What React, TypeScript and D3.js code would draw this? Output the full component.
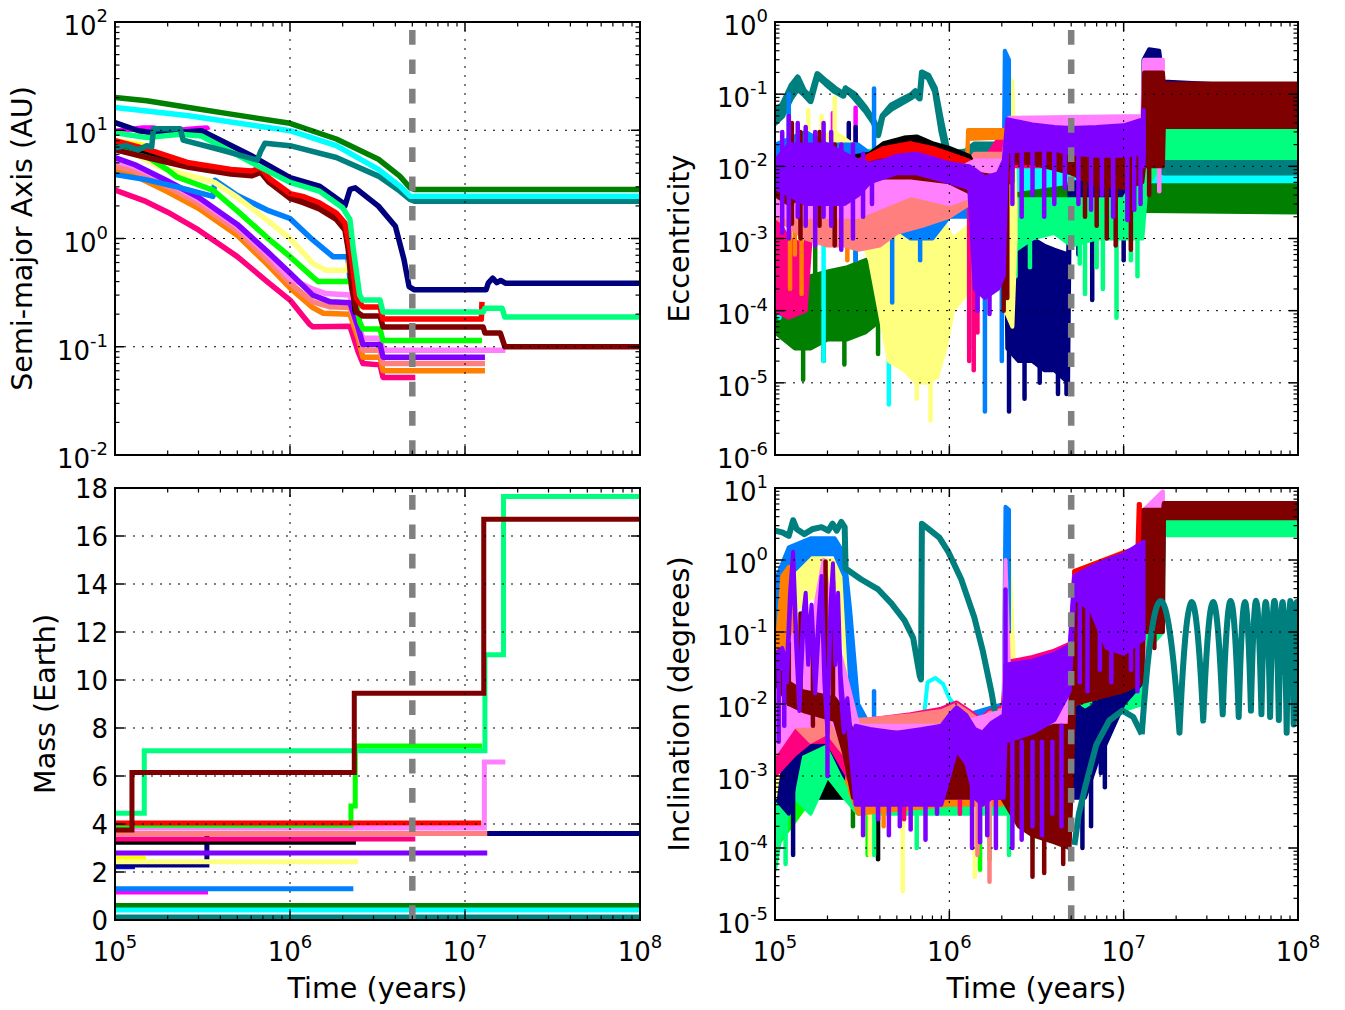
import React from 'react';
import * as d3 from 'd3';

type P2 = [number, number];
type P3 = [number, number, number];

// ---------------- colours ----------------
const C = {
  green: '#007f00', cyan: '#00ffff', teal: '#007f7f', navy: '#00007f',
  spring: '#00ff7f', red: '#ff0000', black: '#000000', maroon: '#7f0000',
  lime: '#00ff00', lyellow: '#ffff7f', yellow: '#ffff00', dodger: '#007fff',
  violet: '#ff7fff', purple: '#7f00ff', salmon: '#ff7f7f', orange: '#ff7f00',
  dpink: '#ff007f', magenta: '#ff00ff', blue: '#0000ff', gray: '#808080',
};

// ---------------- ticks / labels ----------------
const TIME_MAJOR = [1e5, 1e6, 1e7, 1e8];
const TIME_EXP = ['5', '6', '7', '8'];
const A_MAJOR = [1e-2, 1e-1, 1, 10, 100];
const A_EXP = ['-2', '-1', '0', '1', '2'];
const E_MAJOR = [1e-6, 1e-5, 1e-4, 1e-3, 1e-2, 1e-1, 1];
const E_EXP = ['-6', '-5', '-4', '-3', '-2', '-1', '0'];
const I_MAJOR = [1e-5, 1e-4, 1e-3, 1e-2, 1e-1, 1, 10];
const I_EXP = ['-5', '-4', '-3', '-2', '-1', '0', '1'];
const M_TICKS = [0, 2, 4, 6, 8, 10, 12, 14, 16, 18];
const MIGRATION_END = 5e6;

// ---------------- semi-major axis (AU) ----------------
const aGreen: P2[] = [[1e5, 20.1], [1.52e5, 18.7], [2.64e5, 16.2], [4.6e5, 14.1], [1e6, 11.6], [1.84e6, 8.3], [3.2e6, 5.4], [4.24e6, 3.77], [4.86e6, 2.94], [5.14e6, 2.84], [1e8, 2.84]];
const aCyan: P2[] = [[1e5, 16.2], [2.64e5, 13.6], [1e6, 9.9], [1.84e6, 7.2], [3.2e6, 4.35], [4.24e6, 3.05], [4.86e6, 2.46], [5.14e6, 2.45], [1e8, 2.45]];
const aTeal: P2[] = [[1e5, 6.9], [1.15e5, 7.2], [1.36e5, 6.6], [1.52e5, 7.2], [1.62e5, 7.0], [1.66e5, 10.3], [2.36e5, 10.3], [2.45e5, 8.1], [4e5, 6.6], [6.5e5, 5.3], [6.8e5, 6.4], [7.2e5, 7.6], [1e6, 7.2], [1.84e6, 5.6], [3.2e6, 3.77], [4.24e6, 2.74], [4.86e6, 2.29], [5.14e6, 2.21], [1e8, 2.21]];
const aNavy: P2[] = [[1e5, 11.8], [1.36e5, 9.9], [1.8e5, 9.3], [3.12e5, 9.9], [6.07e5, 5.78], [1e6, 3.65], [1.47e6, 3.05], [2.0e6, 2.14], [2.06e6, 2.0], [2.2e6, 2.84], [2.36e6, 2.94], [3.2e6, 1.99], [4.0e6, 1.3], [4.48e6, 0.64], [4.79e6, 0.36], [5.14e6, 0.336], [1.32e7, 0.336], [1.36e7, 0.39], [1.44e7, 0.43], [1.52e7, 0.39], [1.6e7, 0.41], [1.7e7, 0.387], [1e8, 0.387]];
const aSpring: P2[] = [[1e5, 9.5], [1.52e5, 8.55], [2.36e5, 9.2], [3.12e5, 8.85], [6.07e5, 5.0], [1e6, 3.3], [1.47e6, 2.74], [2.0e6, 1.92], [2.2e6, 1.5], [2.3e6, 0.8], [2.5e6, 0.3], [2.6e6, 0.27], [3.27e6, 0.27], [3.4e6, 0.209], [1.27e7, 0.209], [1.3e7, 0.227], [1.63e7, 0.227], [1.69e7, 0.188], [1e8, 0.188]];
const aRed: P2[] = [[1e5, 8.0], [1.52e5, 6.7], [2.64e5, 5.0], [4.6e5, 4.35], [6.07e5, 4.2], [6.8e5, 4.5], [7.6e5, 3.6], [1e6, 2.6], [1.18e6, 2.45], [1.47e6, 2.14], [1.84e6, 1.72], [2.06e6, 1.39], [2.23e6, 0.73], [2.4e6, 0.28], [2.61e6, 0.233], [3.27e6, 0.233], [3.4e6, 0.18], [1.24e7, 0.18], [1.25e7, 0.26]];
const aBlack: P2[] = [[1e5, 7.6], [1.52e5, 6.3], [2.64e5, 4.8], [4.6e5, 4.15], [6.07e5, 4.0], [6.8e5, 4.3], [7.6e5, 3.45], [1e6, 2.5], [1.18e6, 2.3], [1.47e6, 2.0], [1.84e6, 1.62], [2.06e6, 1.3], [2.23e6, 0.65], [2.35e6, 0.22], [2.38e6, 0.2]];
const aMaroon: P2[] = [[1e5, 6.6], [1.52e5, 5.6], [2.64e5, 4.55], [4.6e5, 3.95], [6.07e5, 3.8], [6.8e5, 4.1], [7.6e5, 3.3], [1e6, 2.35], [1.18e6, 2.15], [1.47e6, 1.88], [1.84e6, 1.5], [2.06e6, 1.2], [2.15e6, 0.8], [2.25e6, 0.35], [2.4e6, 0.21], [2.61e6, 0.192], [3.27e6, 0.192], [3.4e6, 0.152], [1.27e7, 0.152], [1.3e7, 0.134], [1.59e7, 0.134], [1.69e7, 0.1], [1e8, 0.1]];
const aLime: P2[] = [[1e5, 6.8], [1.5e5, 5.8], [2e5, 4.3], [2.26e5, 3.7], [3.63e5, 2.8], [5e5, 1.8], [7.4e5, 1.02], [1e6, 0.68], [1.35e6, 0.44], [1.45e6, 0.4], [2.2e6, 0.4], [2.3e6, 0.35], [2.5e6, 0.17], [2.61e6, 0.146], [3.27e6, 0.146], [3.4e6, 0.114], [1.25e7, 0.114]];
const aYellow: P2[] = [[1e5, 7.0], [1.3e5, 6.0], [1.8e5, 4.6], [2.26e5, 4.1], [3.7e5, 3.3], [5e5, 2.4], [7.4e5, 1.48], [1e6, 1.0], [1.35e6, 0.59], [1.6e6, 0.51], [2.1e6, 0.51], [2.17e6, 0.62], [2.25e6, 0.45], [2.4e6, 0.42]];
const aDodger: P2[] = [[1e5, 3.9], [1.5e5, 3.5], [2.26e5, 3.0], [3.63e5, 2.45], [3.73e5, 3.45], [5e5, 2.5], [7.4e5, 1.83], [1e6, 1.53], [1.35e6, 0.97], [1.76e6, 0.68], [2.14e6, 0.68], [2.2e6, 0.42]];
const aViolet: P2[] = [[1e5, 5.2], [1.3e5, 4.6], [2e5, 3.3], [3e5, 2.3], [5e5, 1.3], [7.4e5, 0.72], [1e6, 0.43], [1.35e6, 0.34], [1.6e6, 0.31], [2.2e6, 0.3], [2.45e6, 0.16], [2.61e6, 0.12], [3.27e6, 0.12], [3.4e6, 0.093], [1.7e7, 0.093]];
const aPurple: P2[] = [[1e5, 5.6], [1.3e5, 4.8], [2e5, 3.4], [3e5, 2.4], [5e5, 1.35], [7.4e5, 0.76], [1e6, 0.48], [1.35e6, 0.3], [1.7e6, 0.26], [2.2e6, 0.255], [2.45e6, 0.15], [2.61e6, 0.105], [3.27e6, 0.105], [3.4e6, 0.08], [1.3e7, 0.08]];
const aSalmon: P2[] = [[1e5, 4.7], [1.3e5, 4.2], [2e5, 3.0], [3e5, 2.1], [5e5, 1.18], [7.4e5, 0.64], [1e6, 0.39], [1.35e6, 0.26], [1.7e6, 0.234], [2.2e6, 0.23], [2.45e6, 0.14], [2.61e6, 0.093], [3.27e6, 0.093], [3.4e6, 0.07], [1.3e7, 0.07]];
const aOrange: P2[] = [[1e5, 4.2], [1.3e5, 3.8], [2e5, 2.7], [3e5, 1.9], [5e5, 1.07], [7.4e5, 0.58], [1e6, 0.35], [1.35e6, 0.23], [1.55e6, 0.204], [2.2e6, 0.2], [2.45e6, 0.12], [2.61e6, 0.08], [3.27e6, 0.08], [3.4e6, 0.06], [1.3e7, 0.06]];
const aDpink: P2[] = [[1e5, 2.8], [1.5e5, 2.2], [2e5, 1.75], [3e5, 1.2], [5e5, 0.68], [7.4e5, 0.4], [1e6, 0.27], [1.3e6, 0.16], [1.35e6, 0.153], [2.2e6, 0.155], [2.45e6, 0.09], [2.61e6, 0.07], [3.27e6, 0.068], [3.4e6, 0.052], [5.2e6, 0.052]];
const aMagenta: P2[] = [[1e5, 9.8], [1.45e5, 10.5], [1.65e5, 10.5], [2e5, 9.8], [2.9e5, 10.3], [3.35e5, 10.5], [3.4e5, 10.0]];
const aYellowB: P2[] = [[1e5, 8.0], [1.5e5, 7.2]];
const aBlue: P2[] = [[1e5, 5.0], [1.3e5, 4.6]];

// ---------------- mass (Earth) : step changes ----------------
const mGreen: P2[] = [[1e5, 0.6], [1e8, 0.6]];
const mCyan: P2[] = [[1e5, 0.42], [1e8, 0.42]];
const mTeal: P2[] = [[1e5, 0.13], [1e8, 0.13]];
const mDodger: P2[] = [[1e5, 1.3], [2.3e6, 1.3]];
const mMagenta: P2[] = [[1e5, 1.17], [3.4e5, 1.17]];
const mBlue: P2[] = [[1e5, 2.22], [1.3e5, 2.22]];
const mNavy: P2[] = [[1e5, 2.29], [3.35e5, 3.6], [1e8, 3.6]];
const mYellowB: P2[] = [[1e5, 2.58], [1.5e5, 2.58]];
const mYellow: P2[] = [[1e5, 2.43], [2.45e6, 2.43]];
const mPurple: P2[] = [[1e5, 2.79], [1.34e7, 2.79]];
const mBlack: P2[] = [[1e5, 3.24], [2.38e6, 3.24]];
const mDpink: P2[] = [[1e5, 3.38], [5.2e6, 3.38]];
const mSalmon: P2[] = [[1e5, 3.6], [1.34e7, 3.6]];
const mViolet: P2[] = [[1e5, 3.83], [1.29e7, 6.58], [1.7e7, 6.58]];
const mRed: P2[] = [[1e5, 4.04], [1.24e7, 4.04]];
const mLime: P2[] = [[1e5, 3.95], [2.23e6, 4.75], [2.36e6, 7.25], [1.25e7, 7.25]];
const mSpring: P2[] = [[1e5, 4.45], [1.47e5, 7.05], [1.3e7, 11.05], [1.66e7, 17.65], [1e8, 17.65]];
const mMaroon: P2[] = [[1e5, 3.75], [1.25e5, 6.15], [2.33e6, 9.45], [1.28e7, 16.7], [1e8, 16.7]];

// ---------------- eccentricity envelopes [t, low, high] + spikes [t, low, high] ----------------
const eGreen: P3[] = [[1e5, 5e-5, 3e-4], [1.3e5, 3e-5, 2.5e-4], [1.6e5, 3e-5, 3e-4], [2e5, 4e-5, 3.5e-4], [2.6e5, 4e-5, 4e-4], [3.3e5, 5e-5, 5e-4], [4.2e5, 8e-5, 6e-4], [4.6e5, 5e-4, 5e-3], [1e6, 2e-3, 6e-3], [2.2e6, 3.3e-3, 6e-3], [5e6, 3.4e-3, 6e-3], [1.3e7, 3.4e-3, 6e-3], [1.35e7, 2.4e-3, 6.2e-3], [1e8, 2.3e-3, 6.2e-3]];
const eGreenSp: P3[] = [[1.45e5, 1.1e-5, 5e-5], [1.9e5, 2e-5, 6e-5], [2.5e5, 1.8e-5, 6e-5], [3.9e5, 2.5e-5, 1e-4], [8.5e5, 3e-4, 3e-3], [2.9e5, 3e-4, 2.5e-3], [1.7e5, 2e-4, 1.2e-3]];
const eCyan: P3[] = [[1e5, 2e-3, 6e-3], [5e5, 2e-3, 6e-3], [1e6, 2e-3, 8e-3], [2.2e6, 4.5e-3, 9e-3], [5e6, 6e-3, 0.011], [1.3e7, 6e-3, 0.01], [1.35e7, 6.2e-3, 8.2e-3], [1e8, 6.2e-3, 8.2e-3]];
const eCyanSp: P3[] = [[4.5e5, 5e-6, 2e-3], [1.9e5, 2e-5, 2e-3], [1.06e5, 8e-5, 2e-3]];
const eTeal: P3[] = [[1e5, 0.04, 0.06], [1.1e5, 0.05, 0.07], [1.24e5, 0.09, 0.13], [1.35e5, 0.12, 0.17], [1.47e5, 0.1, 0.11], [1.6e5, 0.08, 0.09], [1.75e5, 0.18, 0.19], [1.96e5, 0.14, 0.15], [2.2e5, 0.11, 0.12], [2.47e5, 0.095, 0.1], [2.54e5, 0.12, 0.12], [2.85e5, 0.09, 0.1], [3.29e5, 0.06, 0.065], [3.69e5, 0.04, 0.042], [3.91e5, 0.027, 0.03], [4.14e5, 0.05, 0.05], [4.65e5, 0.063, 0.07], [5.53e5, 0.08, 0.087], [6.03e5, 0.09, 0.097], [6.38e5, 0.1, 0.11], [6.76e5, 0.087, 0.09], [6.96e5, 0.19, 0.2], [7.59e5, 0.17, 0.18], [8.27e5, 0.11, 0.12], [9.02e5, 0.03, 0.04], [9.83e5, 0.012, 0.015], [1.24e6, 0.013, 0.016], [1.39e6, 0.016, 0.02], [2.08e6, 0.016, 0.02], [2.2e6, 0.011, 0.014], [5e6, 0.011, 0.015], [1.3e7, 0.011, 0.014], [1.7e7, 0.0082, 0.013], [1e8, 0.0082, 0.013]];
const eTealSp: P3[] = [[9.3e5, 5e-5, 0.01]];
const eNavy: P3[] = [[1e5, 5e-3, 0.012], [2e5, 5e-3, 0.015], [3.4e5, 8e-3, 0.015], [5e5, 6e-3, 0.012], [1e6, 4e-3, 0.01], [2.1e6, 3e-3, 8e-3], [2.15e6, 3e-5, 8e-4], [2.5e6, 2e-5, 1e-3], [3e6, 2e-5, 1e-3], [3.5e6, 1.5e-5, 8e-4], [4e6, 1.5e-5, 7e-4], [4.8e6, 1e-5, 6e-4], [4.9e6, 1.5e-3, 6e-3], [1e7, 2e-3, 6e-3], [1.28e7, 2e-3, 6e-3], [1.3e7, 0.05, 0.3], [1.4e7, 0.1, 0.42], [1.6e7, 0.1, 0.4], [1.68e7, 0.05, 0.15], [1e8, 0.04, 0.12]];
const eNavySp: P3[] = [[2.65e5, 0.01, 0.04], [2.9e5, 0.01, 0.035], [2.2e6, 4e-6, 1e-4], [2.7e6, 6e-6, 1e-4], [3.3e6, 1e-5, 1e-4], [4.2e6, 7e-6, 1e-4], [4.7e6, 7e-6, 1e-4], [5.5e6, 6e-4, 2e-3], [6.6e6, 1.4e-4, 2e-3], [1e7, 5e-4, 2e-3]];
const eSpring: P3[] = [[1e5, 3e-3, 0.012], [5e5, 8e-3, 0.018], [2e6, 6e-3, 0.012], [2.2e6, 6e-4, 3.5e-3], [3e6, 1e-3, 3.5e-3], [4e6, 1.2e-3, 3.5e-3], [5e6, 8e-4, 3.5e-3], [7e6, 1e-3, 3.5e-3], [1e7, 1e-3, 3.5e-3], [1.28e7, 1e-3, 0.01], [1.35e7, 5e-3, 0.04], [1.7e7, 0.013, 0.045], [1e8, 0.013, 0.045]];
const eSpringSp: P3[] = [[2.4e6, 3e-4, 2e-3], [2.9e6, 4e-4, 2e-3], [5.6e6, 4.5e-4, 1e-3], [6e6, 1.7e-4, 1e-3], [7e6, 4e-4, 1e-3], [7.6e6, 2e-4, 1e-3], [9.1e6, 8e-5, 1e-3], [1.1e7, 5e-4, 1e-3], [1.2e7, 3e-4, 1e-3]];
const eYellow: P3[] = [[1e5, 2e-3, 0.01], [1.3e5, 3e-3, 0.02], [1.7e5, 4e-3, 0.025], [2.2e5, 4e-3, 0.03], [2.8e5, 2e-3, 0.02], [3.5e5, 5e-4, 6e-3], [4.5e5, 2e-5, 2.5e-3], [5.5e5, 1.5e-5, 3e-3], [6.5e5, 1e-5, 3e-3], [7.5e5, 1e-5, 2.5e-3], [8.5e5, 1.2e-5, 2e-3], [9.5e5, 3e-5, 1.5e-3], [1.05e6, 1e-4, 1e-3], [1.5e6, 3e-4, 2e-3], [2.05e6, 1e-3, 5e-3], [2.1e6, 1e-4, 0.2], [2.3e6, 6e-5, 0.15], [2.4e6, 1e-3, 3e-3]];
const eYellowSp: P3[] = [[7.8e5, 3e-6, 1e-4], [6.5e5, 6e-6, 1e-4], [2.2e5, 5e-3, 0.09], [1.55e5, 5e-3, 0.06], [1.85e5, 5e-3, 0.05]];
const eDodger: P3[] = [[1e5, 4e-3, 0.02], [1.5e5, 3e-3, 0.03], [2e5, 3e-3, 0.02], [3e5, 4e-3, 0.02], [4e5, 2e-3, 0.012], [6e5, 1e-3, 8e-3], [8e5, 1e-3, 6e-3], [1e6, 2e-3, 5e-3], [1.5e6, 2e-3, 6e-3], [2.05e6, 3e-3, 8e-3], [2.08e6, 0.05, 0.4], [2.2e6, 0.05, 0.3]];
const eDodgerSp: P3[] = [[1.2e5, 5e-3, 0.1], [3.7e5, 2e-3, 0.12], [2.9e5, 5e-4, 0.02], [4.7e5, 1.3e-4, 5e-3], [6.8e5, 5e-4, 5e-3], [1.6e6, 4e-6, 2e-3], [1.3e6, 3e-5, 2e-3], [2.0e6, 2e-5, 2e-3]];
const eMagenta: P3[] = [[1e5, 8e-3, 0.012], [3.4e5, 8e-3, 0.012]];
const eMagentaSp: P3[] = [[2.9e5, 0.02, 0.065], [2.15e5, 0.02, 0.055]];
const eDpink: P3[] = [[1e5, 1e-4, 2e-3], [1.2e5, 8e-5, 1e-3], [1.5e5, 1e-4, 8e-4], [1.6e5, 1e-3, 0.01], [3e5, 2e-3, 0.01], [6e5, 3e-3, 0.01], [1e6, 3e-3, 8e-3], [1.5e6, 3e-3, 0.01], [2.2e6, 0.01, 0.04], [5.2e6, 0.01, 0.04]];
const eDpinkSp: P3[] = [[1.3e6, 2e-5, 3e-3], [1.38e6, 1.5e-5, 3e-3], [1.45e6, 5e-5, 3e-3]];
const eOrange: P3[] = [[1e5, 3e-3, 8e-3], [3e5, 3e-3, 0.01], [5e5, 3e-3, 8e-3], [1e6, 3e-3, 6e-3], [1.25e6, 3e-3, 6e-3], [1.28e6, 0.024, 0.032], [2.1e6, 0.025, 0.032], [2.2e6, 0.02, 0.043], [1.3e7, 0.02, 0.043]];
const eOrangeSp: P3[] = [[1.22e5, 2e-4, 5e-3], [1.3e5, 6e-4, 5e-3], [1.42e5, 1.7e-4, 5e-3], [2.6e5, 5e-4, 5e-3]];
const eSalmon: P3[] = [[1e5, 2e-3, 6e-3], [1.5e5, 1e-3, 5e-3], [2e5, 8e-4, 6e-3], [2.5e5, 8e-4, 7e-3], [3e5, 7e-4, 8e-3], [4e5, 8e-4, 9e-3], [5e5, 1.2e-3, 0.011], [7e5, 1.5e-3, 0.011], [1e6, 2e-3, 0.01], [1.3e6, 3e-3, 0.012], [1.4e6, 5e-3, 0.015], [2.05e6, 5e-3, 0.015], [2.2e6, 0.012, 0.045], [1.3e7, 0.012, 0.045]];
const eLime: P3[] = [[1e5, 4e-3, 8e-3], [1e6, 5e-3, 8e-3], [2.05e6, 5e-3, 8e-3], [2.2e6, 0.015, 0.03], [1.24e7, 0.015, 0.03]];
const eBlack: P3[] = [[1e5, 4e-3, 0.01], [2e5, 5e-3, 0.012], [3.5e5, 8e-3, 0.015], [4.2e5, 0.016, 0.021], [5.5e5, 0.019, 0.025], [6.5e5, 0.02, 0.026], [8e5, 0.017, 0.021], [1e6, 0.014, 0.018], [1.3e6, 0.012, 0.014], [1.4e6, 6e-3, 0.01], [2.3e6, 6e-3, 0.01]];
const eRed: P3[] = [[1e5, 4e-3, 0.01], [3e5, 5e-3, 0.012], [4.2e5, 0.012, 0.018], [6e5, 0.015, 0.021], [8e5, 0.013, 0.018], [1e6, 0.011, 0.015], [1.3e6, 0.01, 0.012], [1.4e6, 6e-3, 0.01], [2.2e6, 6e-3, 0.01], [2.25e6, 0.012, 0.03], [1.24e7, 0.012, 0.03]];
const eViolet: P3[] = [[1e5, 2e-3, 0.01], [3e5, 2e-3, 0.01], [6e5, 4e-3, 0.01], [1e6, 3e-3, 8e-3], [1.4e6, 4e-3, 0.012], [2.05e6, 4e-3, 0.012], [2.2e6, 0.015, 0.047], [1.28e7, 0.015, 0.05], [1.31e7, 0.012, 0.3], [1.68e7, 0.012, 0.3]];
const eVioletSp: P3[] = [[1.6e7, 4.5e-3, 0.05]];
const eMaroon: P3[] = [[1e5, 4e-3, 8e-3], [1.2e5, 3e-3, 0.01], [1.5e5, 4e-3, 0.012], [2e5, 3e-3, 0.01], [2.5e5, 4e-3, 0.012], [3e5, 6e-3, 0.01], [4e5, 7e-3, 0.012], [6e5, 7e-3, 0.012], [1e6, 6e-3, 0.01], [1.4e6, 4e-3, 8e-3], [2e6, 3e-3, 7e-3], [2.2e6, 0.011, 0.022], [3e6, 0.011, 0.02], [5e6, 8e-3, 0.016], [7e6, 5.5e-3, 0.015], [1e7, 5e-3, 0.015], [1.28e7, 6e-3, 0.02], [1.31e7, 0.01, 0.2], [1.68e7, 0.01, 0.2], [1.7e7, 0.035, 0.14], [1e8, 0.035, 0.14]];
const eMaroonSp: P3[] = [[1.25e5, 1.6e-3, 0.04], [1.4e5, 1e-3, 0.03], [1.8e5, 1.5e-3, 0.03], [2.2e5, 8e-4, 0.02], [2.05e6, 1e-4, 0.01], [2.15e6, 1.5e-4, 0.02], [6e6, 2e-3, 0.01], [7e6, 1.5e-3, 0.01], [8e6, 1e-3, 0.01], [9e6, 8e-4, 0.01], [1.1e7, 7e-4, 0.01], [1.4e7, 4e-3, 0.05]];
const ePurple: P3[] = [[1e5, 5e-3, 0.012], [1.2e5, 4e-3, 0.02], [1.5e5, 3e-3, 0.02], [2e5, 3e-3, 0.02], [2.5e5, 3e-3, 0.015], [3e5, 4e-3, 0.012], [3.5e5, 6e-3, 0.011], [4.2e5, 7e-3, 0.012], [5e5, 8e-3, 0.014], [6.5e5, 8e-3, 0.015], [8e5, 7e-3, 0.013], [1e6, 6e-3, 0.011], [1.3e6, 5e-3, 0.01], [1.4e6, 2e-4, 9e-3], [1.6e6, 1.5e-4, 7e-3], [1.9e6, 2e-4, 8e-3], [2.05e6, 3e-4, 0.012], [2.15e6, 0.016, 0.045], [3e6, 0.017, 0.038], [4e6, 0.017, 0.035], [5e6, 0.015, 0.034], [7e6, 0.014, 0.035], [1e7, 0.014, 0.037], [1.3e7, 0.015, 0.045]];
const ePurpleSp: P3[] = [[1.1e5, 1.2e-3, 0.03], [1.2e5, 1e-3, 0.05], [1.35e5, 2e-3, 0.04], [1.5e5, 1.5e-3, 0.035], [1.7e5, 8e-4, 0.03], [1.9e5, 2e-3, 0.04], [2.1e5, 1.5e-3, 0.03], [2.4e5, 7e-4, 0.02], [2.8e5, 1e-3, 0.02], [3.2e5, 2e-3, 0.015], [3.6e5, 3e-3, 0.01], [1.45e6, 1e-4, 1e-3], [1.7e6, 9e-5, 1e-3], [2.3e6, 3e-3, 0.02], [2.6e6, 2e-3, 0.02], [3e6, 4e-3, 0.02], [3.5e6, 2e-3, 0.02], [4e6, 3e-3, 0.02], [4.6e6, 5e-3, 0.02], [5.5e6, 3e-3, 0.02], [6.5e6, 2.5e-3, 0.02], [7.5e6, 4e-3, 0.02], [8.7e6, 2e-3, 0.02], [1.05e7, 1.8e-3, 0.02], [1.15e7, 2.5e-3, 0.02], [1.25e7, 3e-3, 0.02], [1.3e7, 0.01, 0.06]];

// ---------------- inclination envelopes (degrees) ----------------
const iGreen: P3[] = [[1e5, 1e-4, 1e-3], [1.3e5, 5e-4, 0.01], [1.6e5, 1e-3, 0.02], [2e5, 2e-3, 0.02], [2.5e5, 1e-3, 0.01], [3e5, 5e-4, 4e-3], [1e6, 5e-4, 4e-3], [2e6, 5e-4, 5e-3], [5e6, 5e-4, 5e-3]];
const iGreenSp: P3[] = [[3.7e5, 2e-4, 1e-3], [2.8e5, 2e-4, 1e-3]];
const iCyan: P3[] = [[1e5, 5e-4, 5e-3], [3e5, 5e-4, 4e-3], [6.8e5, 5e-4, 3e-3], [6.9e5, 3e-3, 3e-3], [7.5e5, 0.02, 0.02], [8.3e5, 0.023, 0.023], [9.2e5, 0.019, 0.019], [1e6, 0.012, 0.012], [1.1e6, 8e-3, 9e-3], [1.3e6, 2e-3, 5e-3], [2e6, 5e-4, 4e-3]];
const iCyanSp: P3[] = [[3.6e5, 1e-4, 1e-3]];
const iBlack: P3[] = [[1e5, 5e-4, 5e-3], [2.5e5, 5e-4, 5e-3], [2.35e6, 5e-4, 5e-3]];
const iBlackSp: P3[] = [[3.9e5, 7e-5, 5e-4]];
const iMagenta: P3[] = [[1e5, 5e-3, 0.01], [3.4e5, 2e-3, 4e-3]];
const iLime: P3[] = [[1e5, 1e-4, 1e-3], [2e5, 1e-3, 0.01], [3e5, 3e-4, 4e-3], [1e6, 4e-4, 5e-3], [2e6, 4e-4, 5e-3], [4.9e6, 5e-4, 0.03], [5.2e6, 0.01, 0.3], [1.24e7, 0.01, 0.6]];
const iLimeSp: P3[] = [[3.4e5, 8e-5, 5e-4], [1.7e6, 7e-5, 5e-4], [1.5e6, 5e-5, 5e-4], [7.5e6, 8e-3, 0.03], [9e6, 0.01, 0.05]];
const iSpring: P3[] = [[1e5, 5e-5, 1e-3], [1.1e5, 2e-4, 3e-3], [1.3e5, 5e-4, 5e-3], [1.6e5, 3e-4, 5e-3], [2e5, 1e-3, 0.01], [2.5e5, 5e-4, 5e-3], [3e5, 3e-4, 3e-3], [1e6, 3e-4, 3e-3], [2e6, 3e-4, 3e-3], [2.2e6, 3e-4, 0.01], [4.9e6, 5e-4, 0.02], [5.2e6, 5e-3, 0.2], [1.28e7, 0.01, 0.5], [1.3e7, 0.05, 2], [1.68e7, 0.1, 3], [1.7e7, 2.2, 3.4], [1e8, 2.2, 3.4]];
const iSpringSp: P3[] = [[1.15e5, 6e-5, 5e-4], [3.7e5, 8e-5, 5e-4], [6.5e5, 1e-4, 5e-4], [2.2e6, 8e-5, 5e-4], [3e6, 1e-4, 5e-4], [6e6, 2e-3, 0.01], [8.5e6, 5e-3, 0.02]];
const iNavy: P3[] = [[1e5, 5e-4, 5e-3], [1.2e5, 3e-4, 3e-3], [1.4e5, 2e-3, 0.02], [2e5, 3e-3, 0.03], [2.5e5, 1e-3, 0.01], [3e5, 5e-4, 5e-3], [2e6, 5e-4, 5e-3], [4.9e6, 5e-4, 5e-3], [5.2e6, 5e-4, 0.01], [6e6, 5e-4, 8e-3], [7e6, 1.5e-3, 0.01], [8e6, 3e-3, 0.015], [1e7, 0.01, 0.05], [1.28e7, 0.02, 0.3], [1.3e7, 0.5, 4.5], [1.68e7, 0.5, 4.5], [1.7e7, 4, 6], [1e8, 4, 6]];
const iNavySp: P3[] = [[1.27e5, 8e-5, 1e-3], [5.8e6, 1e-4, 1e-3], [7.8e6, 7e-4, 3e-3], [6.5e6, 2e-4, 2e-3], [5.5e6, 4e-3, 0.03], [6.8e6, 5e-3, 0.03], [7.4e6, 1.1e-3, 0.02]];
const iYellow: P3[] = [[1e5, 5e-4, 2e-3], [1.1e5, 3e-3, 0.5], [1.3e5, 0.2, 1.3], [1.6e5, 0.3, 1.2], [2e5, 0.3, 1.0], [2.4e5, 0.2, 1.0], [2.7e5, 0.01, 0.1], [3e5, 2e-3, 6e-3], [1e6, 2e-3, 6e-3], [2.05e6, 2e-3, 8e-3], [2.1e6, 0.1, 2], [2.2e6, 2e-3, 1.5], [2.4e6, 2e-3, 0.01]];
const iYellowSp: P3[] = [[5.4e5, 2.5e-5, 4e-4], [1.4e6, 4e-5, 4e-4], [3.5e5, 8e-5, 5e-4]];
const iDodger: P3[] = [[1e5, 0.1, 0.5], [1.2e5, 0.6, 1.5], [1.6e5, 1.2, 2.0], [2.2e5, 1.2, 2.0], [2.5e5, 0.6, 1.2], [2.7e5, 0.02, 0.2], [3e5, 3e-3, 0.01], [3.5e5, 1e-3, 5e-3], [1e6, 2e-3, 6e-3], [2.05e6, 1e-3, 0.01], [2.1e6, 0.1, 5.5], [2.2e6, 0.1, 5]];
const iDodgerSp: P3[] = [[3.7e5, 3e-3, 0.015], [1.05e5, 0.05, 0.6]];
const iOrange: P3[] = [[1e5, 5e-3, 0.03], [1.1e5, 0.01, 0.6], [1.2e5, 0.02, 0.8], [1.3e5, 5e-3, 0.05], [1.6e5, 5e-3, 0.05], [2e5, 3e-3, 0.03], [2.5e5, 2e-3, 0.01], [2.7e5, 6e-4, 3e-3], [3e5, 3e-4, 4e-3], [1e6, 4e-4, 4e-3], [2e6, 4e-4, 4e-3], [2.1e6, 2e-3, 0.03], [5e6, 2e-3, 0.06], [5.2e6, 0.03, 0.7], [1e7, 0.03, 1.3], [1.24e7, 0.03, 1.3]];
const iOrangeSp: P3[] = [[4.2e5, 2e-4, 1e-3], [2.6e5, 8e-4, 3e-3]];
const iRed: P3[] = [[1e5, 2e-3, 0.02], [1.2e5, 5e-3, 0.05], [1.5e5, 3e-3, 0.03], [2e5, 3e-3, 0.02], [2.5e5, 2e-3, 0.01], [3e5, 5e-4, 5e-3], [1e6, 5e-4, 5e-3], [2e6, 5e-4, 6e-3], [2.1e6, 2e-3, 0.03], [5e6, 3e-3, 0.06], [5.2e6, 0.03, 0.7], [1.2e7, 0.03, 1.5], [1.22e7, 0.3, 6], [1.24e7, 0.3, 6]];
const iDpink: P3[] = [[1e5, 1e-3, 0.01], [1.3e5, 2e-3, 0.02], [1.6e5, 3e-3, 0.1], [2e5, 3e-3, 0.02], [2.6e5, 1e-3, 6e-3], [3e5, 5e-4, 5.8e-3], [6e5, 5e-4, 7.2e-3], [9e5, 6e-4, 8.6e-3], [1.1e6, 2e-3, 0.0105], [1.3e6, 1e-3, 8e-3], [1.5e6, 1e-3, 6.2e-3], [1.7e6, 1e-3, 8e-3], [2.05e6, 1e-3, 9e-3], [2.1e6, 2e-3, 0.038], [3e6, 2e-3, 0.045], [4e6, 3e-3, 0.055], [5e6, 4e-3, 0.07]];
const iDpinkSp: P3[] = [[5.5e5, 2.5e-4, 1e-3], [1.15e6, 3e-4, 2e-3]];
const iSalmon: P3[] = [[1e5, 5e-3, 0.03], [1.3e5, 5e-3, 0.02], [1.6e5, 3e-3, 0.01], [2e5, 4e-3, 8e-3], [2.5e5, 2e-3, 6e-3], [2.8e5, 1e-3, 6e-3], [3.5e5, 1e-3, 6.2e-3], [6e5, 1e-3, 7e-3], [9e5, 1.2e-3, 8e-3], [1.1e6, 3e-3, 0.0098], [1.3e6, 2e-3, 7.5e-3], [1.5e6, 1e-3, 5.8e-3], [1.7e6, 1e-3, 7.5e-3], [2.05e6, 1e-3, 8.5e-3], [2.1e6, 2e-3, 0.03], [3e6, 2e-3, 0.01], [4e6, 2e-3, 0.01], [5e6, 3e-3, 0.015], [5.2e6, 0.01, 0.5], [1.3e7, 0.02, 1.3]];
const iSalmonSp: P3[] = [[1.7e6, 3.4e-5, 1e-3], [1.45e6, 8e-5, 1e-3]];
const iViolet: P3[] = [[1e5, 2e-3, 0.02], [1.3e5, 5e-3, 0.1], [1.6e5, 5e-3, 0.1], [1.9e5, 0.01, 1.0], [2.2e5, 5e-3, 0.1], [2.6e5, 2e-3, 0.02], [3e5, 5e-4, 5e-3], [1e6, 5e-4, 5e-3], [2.05e6, 5e-4, 8e-3], [2.1e6, 2e-3, 1.0], [2.2e6, 2e-3, 0.03], [5e6, 2e-3, 0.06], [5.2e6, 0.02, 0.6], [1e7, 0.02, 1.2], [1.3e7, 0.02, 1.6], [1.31e7, 0.5, 5], [1.68e7, 0.8, 9]];
const iMaroon: P3[] = [[1e5, 0.02, 0.035], [1.2e5, 0.01, 0.02], [1.45e5, 8e-3, 0.015], [2.2e5, 6e-3, 0.012], [2.5e5, 2e-3, 8e-3], [2.8e5, 5e-4, 4e-3], [1e6, 5e-4, 4e-3], [2e6, 5e-4, 4e-3], [2.5e6, 2e-4, 3e-3], [3e6, 1.5e-4, 4e-3], [4e6, 1.2e-4, 5e-3], [4.9e6, 1e-4, 5e-3], [5.2e6, 0.01, 0.4], [1e7, 0.015, 0.4], [1.28e7, 0.02, 0.5], [1.3e7, 0.1, 5], [1.68e7, 0.1, 5], [1.7e7, 3.8, 6.2], [1e8, 3.8, 6.2]];
const iMaroonSp: P3[] = [[1.2e5, 0.01, 0.07], [1.4e5, 0.01, 0.18], [1.95e5, 0.01, 0.95], [2.15e5, 0.01, 0.5], [1.65e5, 5e-3, 0.08], [3e6, 4e-5, 1e-3], [3.5e6, 4.5e-5, 1e-3], [4.5e6, 6e-5, 1e-3], [1.5e7, 0.06, 1]];
const iPurple: P3[] = [[1e5, 0.03, 0.05], [1.1e5, 0.035, 0.06], [1.17e5, 0.02, 0.035], [1.22e5, 0.2, 0.35], [1.27e5, 0.8, 1.3], [1.32e5, 0.07, 0.12], [1.38e5, 0.008, 0.014], [1.45e5, 0.1, 0.17], [1.5e5, 0.2, 0.35], [1.55e5, 0.035, 0.06], [1.62e5, 0.14, 0.24], [1.7e5, 0.014, 0.025], [1.78e5, 0.1, 0.17], [1.85e5, 0.35, 0.6], [1.92e5, 0.02, 0.035], [2e5, 4e-3, 7e-3], [2.08e5, 0.14, 0.24], [2.15e5, 0.55, 0.9], [2.22e5, 0.035, 0.06], [2.3e5, 0.2, 0.35], [2.38e5, 0.014, 0.025], [2.48e5, 4e-3, 8e-3], [2.6e5, 7e-3, 0.012], [2.75e5, 1.5e-3, 3e-3], [2.9e5, 4e-4, 5e-3], [3.5e5, 4e-4, 4.5e-3], [5e5, 4e-4, 4e-3], [7e5, 4e-4, 4.5e-3], [9e5, 4e-4, 5e-3], [1e6, 1e-3, 7e-3], [1.1e6, 2.3e-3, 9e-3], [1.25e6, 1.5e-3, 7e-3], [1.4e6, 5e-4, 4.5e-3], [1.55e6, 4e-4, 4e-3], [1.75e6, 5e-4, 5.5e-3], [2.05e6, 5e-4, 7e-3], [2.1e6, 3e-3, 0.035], [3e6, 4e-3, 0.04], [4e6, 6e-3, 0.05], [4.9e6, 0.015, 0.065], [5.2e6, 0.3, 0.6], [6.5e6, 0.2, 0.8], [8e6, 0.06, 1.0], [1e7, 0.05, 1.2], [1.3e7, 0.08, 1.8]];
const iPurpleSp: P3[] = [[1.05e5, 3e-3, 0.04], [1.13e5, 5e-3, 0.05], [2e5, 1e-3, 7e-3], [3.2e5, 1.5e-4, 1e-3], [3.9e5, 2.5e-4, 1e-3], [4.5e5, 1.5e-4, 1e-3], [5.2e5, 2e-4, 1e-3], [6e5, 1.8e-4, 1e-3], [7.3e5, 1.3e-4, 1e-3], [8.5e5, 3e-4, 1e-3], [1.35e6, 1e-4, 1e-3], [1.5e6, 1.2e-4, 1e-3], [1.65e6, 1.5e-4, 1e-3], [1.85e6, 1e-4, 1e-3], [2.1e6, 0.01, 0.39], [2.3e6, 1e-4, 3e-3], [2.6e6, 1.3e-4, 3e-3], [3e6, 2e-4, 3e-3], [3.4e6, 1.5e-4, 3e-3], [3.9e6, 3e-4, 3e-3], [4.4e6, 2e-4, 5e-3], [5.6e6, 0.02, 0.3], [6.2e6, 0.015, 0.3], [7.3e6, 0.03, 0.2], [8.5e6, 0.02, 0.1], [1.1e7, 0.03, 0.1], [1.2e7, 0.015, 0.1]];
// teal inclination: smooth line segments and the late arches
const iTealEarly: P2[] = [[1e5, 2.56], [1.1e5, 2.42], [1.2e5, 2.17], [1.27e5, 3.57], [1.33e5, 2.7], [1.47e5, 2.29], [1.65e5, 2.7], [1.85e5, 2.86], [2.02e5, 2.56], [2.14e5, 3.19], [2.26e5, 2.56], [2.4e5, 3.37], [2.51e5, 2.86], [2.54e5, 0.76], [3.11e5, 0.54], [3.91e5, 0.39], [4.65e5, 0.25], [5.53e5, 0.145], [6.2e5, 0.083], [6.76e5, 0.0247], [6.88e5, 0.022], [6.96e5, 3.19], [7.59e5, 2.7], [8.77e5, 2.05], [9.83e5, 1.32], [1.17e6, 0.54], [1.39e6, 0.16], [1.56e6, 0.053], [1.75e6, 0.014], [1.82e6, 0.008]];
const iTealMid: P2[] = [[5.22e6, 1.1e-4], [5.53e6, 2.95e-4], [6.03e6, 7.2e-4], [6.96e6, 2.7e-3], [8.27e6, 5.9e-3], [9.83e6, 8.1e-3], [1.135e7, 6.6e-3], [1.27e7, 3.8e-3]];
const iTealTroughs: P2[] = [[1.27e7, 3.8e-3], [2.09e7, 4e-3], [2.86e7, 5.9e-3], [3.7e7, 7.2e-3], [4.57e7, 6.6e-3], [5.37e7, 8.1e-3], [6.17e7, 7.2e-3], [6.92e7, 6.6e-3], [7.76e7, 6e-3], [8.61e7, 4e-3], [9.44e7, 5.2e-3], [1.025e8, 5e-3]];
const iTealPeaks = [0.27, 0.26, 0.26, 0.27, 0.26, 0.27, 0.26, 0.27, 0.26, 0.27, 0.26];

// ---------------- series lists (draw order) ----------------
const A_SERIES = [
  { c: C.magenta, d: aMagenta }, { c: C.blue, d: aBlue }, { c: C.yellow, d: aYellowB },
  { c: C.dpink, d: aDpink }, { c: C.orange, d: aOrange }, { c: C.salmon, d: aSalmon },
  { c: C.violet, d: aViolet }, { c: C.purple, d: aPurple }, { c: C.dodger, d: aDodger },
  { c: C.lyellow, d: aYellow }, { c: C.lime, d: aLime }, { c: C.black, d: aBlack },
  { c: C.maroon, d: aMaroon }, { c: C.red, d: aRed }, { c: C.navy, d: aNavy },
  { c: C.spring, d: aSpring }, { c: C.teal, d: aTeal }, { c: C.cyan, d: aCyan }, { c: C.green, d: aGreen },
];
const M_SERIES = [
  { c: C.green, d: mGreen }, { c: C.cyan, d: mCyan }, { c: C.teal, d: mTeal },
  { c: C.magenta, d: mMagenta }, { c: C.dodger, d: mDodger }, { c: C.blue, d: mBlue },
  { c: C.navy, d: mNavy }, { c: C.yellow, d: mYellowB }, { c: C.lyellow, d: mYellow },
  { c: C.purple, d: mPurple }, { c: C.black, d: mBlack }, { c: C.dpink, d: mDpink },
  { c: C.salmon, d: mSalmon }, { c: C.violet, d: mViolet }, { c: C.lime, d: mLime },
  { c: C.red, d: mRed }, { c: C.spring, d: mSpring }, { c: C.maroon, d: mMaroon },
];
const E_SERIES = [
  { c: C.magenta, d: eMagenta, s: eMagentaSp },
  { c: C.green, d: eGreen, s: eGreenSp }, { c: C.cyan, d: eCyan, s: eCyanSp },
  { c: C.teal, d: eTeal, s: eTealSp, w: 6 }, { c: C.navy, d: eNavy, s: eNavySp },
  { c: C.spring, d: eSpring, s: eSpringSp }, { c: C.lyellow, d: eYellow, s: eYellowSp },
  { c: C.dodger, d: eDodger, s: eDodgerSp },
  { c: C.dpink, d: eDpink, s: eDpinkSp }, { c: C.orange, d: eOrange, s: eOrangeSp },
  { c: C.salmon, d: eSalmon, s: [] }, { c: C.lime, d: eLime, s: [] },
  { c: C.black, d: eBlack, s: [] }, { c: C.red, d: eRed, s: [] },
  { c: C.violet, d: eViolet, s: eVioletSp }, { c: C.maroon, d: eMaroon, s: eMaroonSp },
  { c: C.purple, d: ePurple, s: ePurpleSp },
];
const I_SERIES = [
  { c: C.magenta, d: iMagenta, s: [] },
  { c: C.green, d: iGreen, s: iGreenSp }, { c: C.cyan, d: iCyan, s: iCyanSp },
  { c: C.black, d: iBlack, s: iBlackSp },
  { c: C.lime, d: iLime, s: iLimeSp }, { c: C.spring, d: iSpring, s: iSpringSp },
  { c: C.navy, d: iNavy, s: iNavySp }, { c: C.lyellow, d: iYellow, s: iYellowSp },
  { c: C.dodger, d: iDodger, s: iDodgerSp }, { c: C.orange, d: iOrange, s: iOrangeSp },
  { c: C.red, d: iRed, s: [] }, { c: C.dpink, d: iDpink, s: iDpinkSp },
  { c: C.salmon, d: iSalmon, s: iSalmonSp }, { c: C.violet, d: iViolet, s: [] },
  { c: C.maroon, d: iMaroon, s: iMaroonSp }, { c: C.purple, d: iPurple, s: iPurpleSp },
];

// ---------------- layout ----------------
const FONT = 'DejaVu Sans, Verdana, sans-serif';
const BOX_A = { x0: 115, x1: 640, y0: 22, y1: 455 };
const BOX_E = { x0: 775, x1: 1298, y0: 22, y1: 455 };
const BOX_M = { x0: 115, x1: 640, y0: 488, y1: 920 };
const BOX_I = { x0: 775, x1: 1298, y0: 488, y1: 920 };
const TITLE_SIZE = 28.6;

function minorLog(lo: number, hi: number): number[] {
  const out: number[] = [];
  for (let e = lo; e < hi; e++) for (let k = 2; k <= 9; k++) out.push(k * Math.pow(10, e));
  return out;
}

function Pow({ x, y, e, anchor }: { x: number; y: number; e: string; anchor: string }) {
  return (
    <text x={x} y={y} textAnchor={anchor} fontFamily={FONT} fontSize={26} fill="#000">
      10<tspan dy={-13} fontSize={18}>{e}</tspan>
    </text>
  );
}

function Panel(props: any) {
  const { id, box, x, y, yMajor, yMinor, yLabels, xLabels, title, titleX, children } = props;
  const { x0, x1, y0, y1 } = box;
  const xMinor = minorLog(5, 8);
  const xm = x(MIGRATION_END);
  return (
    <g>
      <defs>
        <clipPath id={id}><rect x={x0} y={y0} width={x1 - x0} height={y1 - y0} /></clipPath>
      </defs>
      <g clipPath={`url(#${id})`}>{children}</g>
      {TIME_MAJOR.map((v, i) => (
        <line key={'gx' + i} x1={x(v)} x2={x(v)} y1={y1} y2={y0} stroke="#000" strokeWidth={1} strokeDasharray="2,7" />
      ))}
      {yMajor.map((v: number, i: number) => (
        <line key={'gy' + i} x1={x0} x2={x1} y1={y(v)} y2={y(v)} stroke="#000" strokeWidth={1} strokeDasharray="2,7" />
      ))}
      <line x1={xm} x2={xm} y1={y1} y2={y0} stroke={C.gray} strokeWidth={6.5} strokeDasharray="14.7,14.6" />
      <rect x={x0} y={y0} width={x1 - x0} height={y1 - y0} fill="none" stroke="#000" strokeWidth={2} />
      {TIME_MAJOR.map((v, i) => (
        <g key={'tx' + i}>
          <line x1={x(v)} x2={x(v)} y1={y1} y2={y1 - 9} stroke="#000" strokeWidth={1.5} />
          <line x1={x(v)} x2={x(v)} y1={y0} y2={y0 + 9} stroke="#000" strokeWidth={1.5} />
        </g>
      ))}
      {xMinor.map((v, i) => (
        <g key={'tmx' + i}>
          <line x1={x(v)} x2={x(v)} y1={y1} y2={y1 - 4.5} stroke="#000" strokeWidth={1.2} />
          <line x1={x(v)} x2={x(v)} y1={y0} y2={y0 + 4.5} stroke="#000" strokeWidth={1.2} />
        </g>
      ))}
      {yMajor.map((v: number, i: number) => (
        <g key={'ty' + i}>
          <line x1={x0} x2={x0 + 9} y1={y(v)} y2={y(v)} stroke="#000" strokeWidth={1.5} />
          <line x1={x1} x2={x1 - 9} y1={y(v)} y2={y(v)} stroke="#000" strokeWidth={1.5} />
        </g>
      ))}
      {yMinor.map((v: number, i: number) => (
        <g key={'tmy' + i}>
          <line x1={x0} x2={x0 + 4.5} y1={y(v)} y2={y(v)} stroke="#000" strokeWidth={1.2} />
          <line x1={x1} x2={x1 - 4.5} y1={y(v)} y2={y(v)} stroke="#000" strokeWidth={1.2} />
        </g>
      ))}
      {yLabels}
      {xLabels && TIME_MAJOR.map((v, i) => <Pow key={'lx' + i} x={x(v)} y={y1 + 41} e={TIME_EXP[i]} anchor="middle" />)}
      {xLabels && (
        <text x={(x0 + x1) / 2} y={998} textAnchor="middle" fontFamily={FONT} fontSize={TITLE_SIZE}>Time (years)</text>
      )}
      <text transform={`translate(${titleX},${(y0 + y1) / 2}) rotate(-90)`} textAnchor="middle" fontFamily={FONT} fontSize={TITLE_SIZE}>{title}</text>
    </g>
  );
}

function Bands({ list, x, y }: any) {
  const area = d3.area<P3>().x(d => x(d[0])).y0(d => y(d[1])).y1(d => y(d[2]));
  return (
    <g>
      {list.map((s: any, i: number) => (
        <g key={i}>
          <path d={area(s.d) || ''} fill={s.c} stroke={s.c} strokeWidth={s.w || 4} strokeLinejoin="round" />
          {s.s.map((p: P3, j: number) => (
            <line key={j} x1={x(p[0])} x2={x(p[0])} y1={y(p[1])} y2={y(p[2])} stroke={s.c} strokeWidth={4.5} strokeLinecap="round" />
          ))}
        </g>
      ))}
    </g>
  );
}

export default function App() {
  const xL = d3.scaleLog().domain([1e5, 1e8]).range([BOX_A.x0, BOX_A.x1]);
  const xR = d3.scaleLog().domain([1e5, 1e8]).range([BOX_E.x0, BOX_E.x1]);
  const ya = d3.scaleLog().domain([1e-2, 1e2]).range([BOX_A.y1, BOX_A.y0]);
  const ye = d3.scaleLog().domain([1e-6, 1]).range([BOX_E.y1, BOX_E.y0]);
  const ym = d3.scaleLinear().domain([0, 18]).range([BOX_M.y1, BOX_M.y0]);
  const yi = d3.scaleLog().domain([1e-5, 10]).range([BOX_I.y1, BOX_I.y0]);

  const lineA = d3.line<P2>().x(d => xL(d[0])).y(d => ya(d[1]));
  const lineM = d3.line<P2>().x(d => xL(d[0])).y(d => ym(d[1])).curve(d3.curveStepAfter);
  const lineI = d3.line<P2>().x(d => xR(d[0])).y(d => yi(d[1]));

  const arch = d3.path();
  iTealTroughs.forEach((p, i) => {
    const px = xR(p[0]);
    const py = yi(p[1]);
    if (i === 0) { arch.moveTo(px, py); return; }
    const q = iTealTroughs[i - 1];
    const qx = xR(q[0]);
    const qy = yi(q[1]);
    const apex = yi(iTealPeaks[i - 1]);
    arch.quadraticCurveTo((qx + px) / 2, 2 * apex - (qy + py) / 2, px, py);
  });

  const yLabA = A_MAJOR.map((v, i) => <Pow key={'la' + i} x={108} y={ya(v) + 13} e={A_EXP[i]} anchor="end" />);
  const yLabE = E_MAJOR.map((v, i) => <Pow key={'le' + i} x={768} y={ye(v) + 13} e={E_EXP[i]} anchor="end" />);
  const yLabI = I_MAJOR.map((v, i) => <Pow key={'li' + i} x={768} y={yi(v) + 13} e={I_EXP[i]} anchor="end" />);
  const yLabM = M_TICKS.map((v, i) => (
    <text key={'lm' + i} x={108} y={ym(v) + 9.5} textAnchor="end" fontFamily={FONT} fontSize={26}>{v}</text>
  ));

  return (
    <div style={{ position: 'absolute', left: 0, top: 0, width: 1345, height: 1010, background: '#fff' }}>
      <svg width={1345} height={1010} style={{ display: 'block' }}>
        <rect x={0} y={0} width={1345} height={1010} fill="#fff" />
        <Panel id="clipA" box={BOX_A} x={xL} y={ya} yMajor={A_MAJOR} yMinor={minorLog(-2, 2)} yLabels={yLabA}
          xLabels={false} title="Semi-major Axis (AU)" titleX={32}>
          {A_SERIES.map((s, i) => (
            <path key={i} d={lineA(s.d) || ''} fill="none" stroke={s.c} strokeWidth={5.5} strokeLinejoin="round" />
          ))}
        </Panel>
        <Panel id="clipE" box={BOX_E} x={xR} y={ye} yMajor={E_MAJOR} yMinor={minorLog(-6, 0)} yLabels={yLabE}
          xLabels={false} title="Eccentricity" titleX={689}>
          <Bands list={E_SERIES} x={xR} y={ye} />
        </Panel>
        <Panel id="clipM" box={BOX_M} x={xL} y={ym} yMajor={M_TICKS} yMinor={[]} yLabels={yLabM}
          xLabels={true} title="Mass (Earth)" titleX={55}>
          {M_SERIES.map((s, i) => (
            <path key={i} d={lineM(s.d) || ''} fill="none" stroke={s.c} strokeWidth={5} strokeLinejoin="miter" />
          ))}
        </Panel>
        <Panel id="clipI" box={BOX_I} x={xR} y={yi} yMajor={I_MAJOR} yMinor={minorLog(-5, 1)} yLabels={yLabI}
          xLabels={true} title="Inclination (degrees)" titleX={689}>
          <Bands list={I_SERIES} x={xR} y={yi} />
          <path d={lineI(iTealMid) || ''} fill="none" stroke={C.teal} strokeWidth={6} strokeLinejoin="round" />
          <path d={arch.toString()} fill="none" stroke={C.teal} strokeWidth={6} strokeLinejoin="round" />
          <path d={lineI(iTealEarly) || ''} fill="none" stroke={C.teal} strokeWidth={6} strokeLinejoin="round" />
        </Panel>
      </svg>
    </div>
  );
}
